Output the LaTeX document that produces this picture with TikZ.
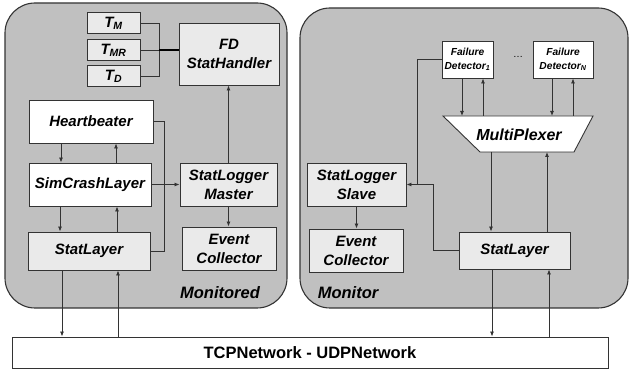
\documentclass[tikz,border=0pt]{standalone}
\usepackage{fontspec}
\setmainfont{Liberation Sans}
\usetikzlibrary{arrows.meta}
\definecolor{panelgray}{HTML}{C0C0C0}
\definecolor{boxgray}{HTML}{EAEAEA}
\definecolor{linegray}{HTML}{333333}
\begin{document}
\begin{tikzpicture}[x=1pt,y=-1pt,
  panel/.style={draw=linegray,line width=1.1pt,fill=panelgray,rounded corners=30pt},
  lbox/.style={draw=linegray,line width=0.9pt,fill=boxgray,inner sep=0pt,align=center,
    font=\fontsize{15}{19}\selectfont\bfseries\itshape},
  wbox/.style={lbox,fill=white},
  fdbox/.style={wbox,font=\fontsize{10.2}{13.5}\selectfont\bfseries\itshape},
  tbox/.style={lbox,minimum width=53pt,minimum height=21pt},
  wire/.style={draw=linegray,line width=0.8pt},
  arr/.style={wire,-{Latex[length=5pt,width=4pt]}},
  plabel/.style={font=\fontsize{16.5}{20}\selectfont\bfseries\itshape}]
\useasboundingbox (0,0) rectangle (630,371);

% the two hosts
\draw[panel] (5,3) rectangle (287,308);
\draw[panel] (300,8) rectangle (628,308);

% ---- monitored host ----
\node[tbox] (tm)  at (113.5,23) {T\textsubscript{M}};
\node[tbox] (tmr) at (113.5,50) {T\textsubscript{MR}};
\node[tbox] (td)  at (113.5,76) {T\textsubscript{D}};
\node[lbox,minimum width=100pt,minimum height=62pt] (fdsh) at (229,54) {FD\\StatHandler};
\node[wbox,minimum width=124pt,minimum height=43pt] (hb) at (91,121.5) {Heartbeater};
\node[wbox,minimum width=122pt,minimum height=43pt] (sc) at (90,184.5) {SimCrashLayer};
\node[lbox,minimum width=122pt,minimum height=38pt] (sl) at (89,251) {StatLayer};
\node[lbox,minimum width=97pt,minimum height=43pt] (slm) at (228.5,184.5) {StatLogger\\Master};
\node[lbox,minimum width=94pt,minimum height=43pt] (ecl) at (229,248.5) {Event\\Collector};
\node[plabel] (lmon) at (220,293) {Monitored};

% ---- monitor host ----
\node[fdbox,minimum width=51pt,minimum height=37pt] (fd1) at (467.5,59.5) {Failure\\Detector\textsubscript{1}};
\node[font=\fontsize{10}{12}\selectfont] (dots) at (518,57) {\dots};
\node[fdbox,minimum width=60pt,minimum height=37pt] (fdn) at (563,59.5) {Failure\\Detector\textsubscript{N}};
\draw[draw=linegray,line width=0.9pt,fill=white] (443,116) -- (593,116) -- (574,152) -- (480,152) -- cycle;
\coordinate (muxtop) at (518,116);
\coordinate (muxbot) at (518,152);
\node[font=\fontsize{16}{19}\selectfont\bfseries\itshape] (mux) at (519,134.5) {MultiPlexer};
\node[lbox,minimum width=111pt,minimum height=37pt] (slr) at (514.5,250.5) {StatLayer};
\node[lbox,minimum width=99pt,minimum height=43pt] (sls) at (356.5,184.5) {StatLogger\\Slave};
\node[lbox,minimum width=94pt,minimum height=43pt] (ecr) at (356,250.5) {Event\\Collector};
\node[plabel] (rmon) at (348,293) {Monitor};

% ---- network ----
\node[draw=linegray,line width=0.9pt,fill=white,minimum width=596pt,minimum height=31pt,
  inner sep=0pt,font=\fontsize{16.5}{20}\selectfont\bfseries] (net) at (310,352.5) {TCPNetwork - UDPNetwork};

% timers to the statistics handler
\coordinate (tj) at (159,50);
\draw[wire] (tm.east) -| (tj);
\draw[wire] (td.east) -| (tj);
\draw[wire] (tmr.east) -- (tj);
\draw[draw=black,line width=2pt] (tj) -- (tj -| fdsh.west);

% monitored protocol stack
\draw[arr] ([xshift=-30pt]hb.south) -- ([xshift=-30pt]hb.south |- sc.north);
\draw[arr] ([xshift=26pt]sc.north) -- ([xshift=26pt]sc.north |- hb.south);
\draw[arr] ([xshift=-30pt]sc.south) -- ([xshift=-30pt]sc.south |- sl.north);
\draw[arr] ([xshift=28pt]sl.north) -- ([xshift=28pt]sl.north |- sc.south);
\draw[arr] ([xshift=-27pt]sl.south) -- ([xshift=-27pt]sl.south |- net.north);
\draw[arr] ([xshift=29pt,yshift=-0.5pt]net.north -| sl.south) -- ([xshift=29pt]sl.south);

% statistics collection on the monitored side
\coordinate (busl) at (164,184.5);
\draw[wire] (hb.east) -| (busl |- sl.east) -- (sl.east);
\draw[arr] (sc.east) -- (slm.west);
\draw[arr] (slm.north) -- (slm.north |- fdsh.south);
\draw[arr] (slm.south) -- (slm.south |- ecl.north);

% failure detectors and multiplexer
\draw[arr] ([xshift=-5.5pt]fd1.south) -- ([xshift=-5.5pt]fd1.south |- muxtop);
\draw[arr] ([xshift=15.5pt]fd1.south |- muxtop) -- ([xshift=15.5pt]fd1.south);
\draw[arr] ([xshift=-11pt]fdn.south) -- ([xshift=-11pt]fdn.south |- muxtop);
\draw[arr] ([xshift=10pt]fdn.south |- muxtop) -- ([xshift=10pt]fdn.south);
\draw[arr] ([xshift=-23.5pt]slr.north |- muxbot) -- ([xshift=-23.5pt]slr.north);
\draw[arr] ([xshift=32.5pt]slr.north) -- ([xshift=32.5pt]slr.north |- muxbot);
\draw[arr] ([xshift=-22.5pt]slr.south) -- ([xshift=-22.5pt]slr.south |- net.north);
\draw[arr] ([xshift=34.5pt]net.north -| slr.south) -- ([xshift=34.5pt]slr.south);

% statistics collection on the monitor side
\coordinate (jr) at (417,184.5);
\coordinate (jr2) at (433,184.5);
\draw[wire] (fd1.west) -| (jr);
\draw[wire] (slr.west) -| (jr2) -- (jr);
\draw[arr] (jr) -- (sls.east);
\draw[arr] (sls.south) -- (sls.south |- ecr.north);
\end{tikzpicture}
\end{document}
